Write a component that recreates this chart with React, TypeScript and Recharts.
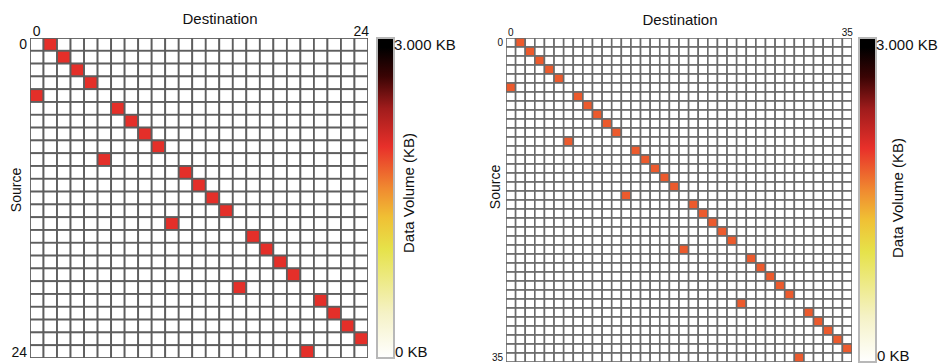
import React from 'react';
import { ScatterChart, Scatter, XAxis, YAxis } from 'recharts';

// colour scale of both panels
const maxVolumeKB = 3.0;
const colorbarLabels = ['0 KB', '3.000 KB'];
const colorbarTitle = 'Data Volume (KB)';
const xTitle = 'Destination';
const yTitle = 'Source';

// left panel: 25 ranks
const leftRanks = 25;
const leftTicks = [0, 24];
const leftDestinations = [1, 2, 3, 4, 0, 6, 7, 8, 9, 5, 11, 12, 13, 14, 10, 16, 17, 18, 19, 15, 21, 22, 23, 24, 20];
const leftVolumesKB = [
  2.0, 2.0, 2.0, 2.0, 2.0, 2.0, 2.0, 2.0, 2.0, 2.0, 2.0, 2.0, 2.0,
  2.0, 2.0, 2.0, 2.0, 2.0, 2.0, 2.0, 2.0, 2.0, 2.0, 2.0, 2.0,
];

// right panel: 36 ranks
const rightRanks = 36;
const rightTicks = [0, 35];
const rightDestinations = [
  1, 2, 3, 4, 5, 0, 7, 8, 9, 10, 11, 6, 13, 14, 15, 16, 17, 12,
  19, 20, 21, 22, 23, 18, 25, 26, 27, 28, 29, 24, 31, 32, 33, 34, 35, 30,
];
const rightVolumesKB = [
  1.8, 1.8, 1.8, 1.8, 1.8, 1.8, 1.8, 1.8, 1.8, 1.8, 1.8, 1.8,
  1.8, 1.8, 1.8, 1.8, 1.8, 1.8, 1.8, 1.8, 1.8, 1.8, 1.8, 1.8,
  1.8, 1.8, 1.8, 1.8, 1.8, 1.8, 1.8, 1.8, 1.8, 1.8, 1.8, 1.8,
];

const colorStops: [number, string][] = [
  [0, '#ffffff'],
  [0.14, '#f5f2c6'],
  [0.34, '#e6e24a'],
  [0.44, '#f0c034'],
  [0.53, '#f08a30'],
  [0.66, '#e8302a'],
  [0.78, '#a01c1c'],
  [0.88, '#3a0404'],
  [0.97, '#000000'],
  [1, '#000000'],
];

const hexToRgb = (h: string) => [1, 3, 5].map((i) => parseInt(h.slice(i, i + 2), 16));

function volumeColor(kb: number) {
  const t = Math.max(0, Math.min(1, kb / maxVolumeKB));
  for (let i = 1; i < colorStops.length; i++) {
    const [o1, c1] = colorStops[i];
    const [o0, c0] = colorStops[i - 1];
    if (t <= o1) {
      const f = (t - o0) / (o1 - o0 || 1);
      const a = hexToRgb(c0);
      const b = hexToRgb(c1);
      const rgb = a.map((v, k) => Math.round(v + (b[k] - v) * f));
      return `rgb(${rgb.join(',')})`;
    }
  }
  return colorStops[colorStops.length - 1][1];
}

function buildCells(n: number, dest: number[], vols: number[]) {
  const cells: { src: number; dst: number; kb: number }[] = [];
  for (let src = 0; src < n; src++) {
    for (let dst = 0; dst < n; dst++) {
      cells.push({ src, dst, kb: dest[src] === dst ? vols[src] : 0 });
    }
  }
  return cells;
}

const X_AXIS_H = 24;

interface HeatmapProps {
  n: number;
  cells: { src: number; dst: number; kb: number }[];
  ticks: number[];
  width: number;
  height: number;
  margin: { top: number; right: number; bottom: number; left: number };
  yAxisWidth: number;
  fontSize: number;
  stroke: string;
  strokeWidth: number;
}

const Heatmap = ({ n, cells, ticks, width, height, margin, yAxisWidth, fontSize, stroke, strokeWidth }: HeatmapProps) => {
  const plotW = width - margin.left - margin.right - yAxisWidth;
  const plotH = height - margin.top - margin.bottom - X_AXIS_H;
  const cw = plotW / n;
  const ch = plotH / n;
  return (
    <ScatterChart width={width} height={height} margin={margin}>
      <XAxis
        type="number"
        dataKey="dst"
        orientation="top"
        domain={[-0.5, n - 0.5]}
        ticks={ticks}
        interval={0}
        allowDataOverflow
        axisLine={false}
        tickLine={false}
        tickSize={0}
        tickMargin={2}
        height={X_AXIS_H}
        tick={{ fontSize, fill: '#111' }}
      />
      <YAxis
        type="number"
        dataKey="src"
        reversed
        domain={[-0.5, n - 0.5]}
        ticks={ticks}
        interval={0}
        allowDataOverflow
        axisLine={false}
        tickLine={false}
        tickSize={0}
        tickMargin={3}
        width={yAxisWidth}
        tick={{ fontSize, fill: '#111' }}
      />
      <Scatter
        data={cells}
        isAnimationActive={false}
        shape={(p: any) => (
          <rect
            x={p.cx - cw / 2}
            y={p.cy - ch / 2}
            width={cw}
            height={ch}
            fill={volumeColor(p.payload.kb)}
            stroke={stroke}
            strokeWidth={strokeWidth}
          />
        )}
      />
    </ScatterChart>
  );
};

const Colorbar = ({ id, x, y, w, h, titleX, titleY }: { id: string; x: number; y: number; w: number; h: number; titleX: number; titleY: number }) => (
  <g>
    <defs>
      <linearGradient id={id} x1="0" y1="1" x2="0" y2="0">
        {colorStops.map(([o, c]) => (
          <stop key={o} offset={o} stopColor={c} />
        ))}
      </linearGradient>
    </defs>
    <rect x={x} y={y} width={w} height={h} fill={`url(#${id})`} stroke="#b8b8b8" strokeWidth={2} />
    <text x={x + w} y={y + 12} fontSize={15} fill="#111">{colorbarLabels[1]}</text>
    <text x={x + w + 1} y={y + h - 1} fontSize={15} fill="#111">{colorbarLabels[0]}</text>
    <text
      x={titleX}
      y={titleY}
      fontSize={15}
      fill="#111"
      textAnchor="middle"
      dominantBaseline="central"
      transform={`rotate(-90 ${titleX} ${titleY})`}
    >
      {colorbarTitle}
    </text>
  </g>
);

export default function App() {
  const leftCells = buildCells(leftRanks, leftDestinations, leftVolumesKB);
  const rightCells = buildCells(rightRanks, rightDestinations, rightVolumesKB);
  return (
    <div
      style={{
        position: 'fixed',
        left: 0,
        top: 0,
        width: 942,
        height: 363,
        background: '#fff',
        fontFamily: '"Liberation Sans", Arial, sans-serif',
      }}
    >
      <div style={{ position: 'absolute', left: 0, top: 0 }}>
        <Heatmap
          n={leftRanks}
          cells={leftCells}
          ticks={leftTicks}
          width={470}
          height={363}
          margin={{ top: 14, right: 102, bottom: 5, left: 0 }}
          yAxisWidth={30}
          fontSize={14}
          stroke="#5e5e5e"
          strokeWidth={1.8}
        />
      </div>
      <div style={{ position: 'absolute', left: 470, top: 0 }}>
        <Heatmap
          n={rightRanks}
          cells={rightCells}
          ticks={rightTicks}
          width={472}
          height={363}
          margin={{ top: 14, right: 90, bottom: 1, left: 0 }}
          yAxisWidth={36}
          fontSize={10}
          stroke="#6a6a6a"
          strokeWidth={1.6}
        />
      </div>
      <svg width={942} height={363} style={{ position: 'absolute', left: 0, top: 0, pointerEvents: 'none' }}>
        <text x={220} y={24} fontSize={15} fill="#111" textAnchor="middle">{xTitle}</text>
        <text x={680} y={25} fontSize={15} fill="#111" textAnchor="middle">{xTitle}</text>
        <text x={16} y={190} fontSize={14} fill="#111" textAnchor="middle" dominantBaseline="central" transform="rotate(-90 16 190)">{yTitle}</text>
        <text x={495} y={187} fontSize={14} fill="#111" textAnchor="middle" dominantBaseline="central" transform="rotate(-90 495 187)">{yTitle}</text>
        <Colorbar id="cbLeft" x={377} y={38} w={17} h={320} titleX={408} titleY={193} />
        <Colorbar id="cbRight" x={859} y={38} w={17} h={324} titleX={897} titleY={198} />
      </svg>
    </div>
  );
}
